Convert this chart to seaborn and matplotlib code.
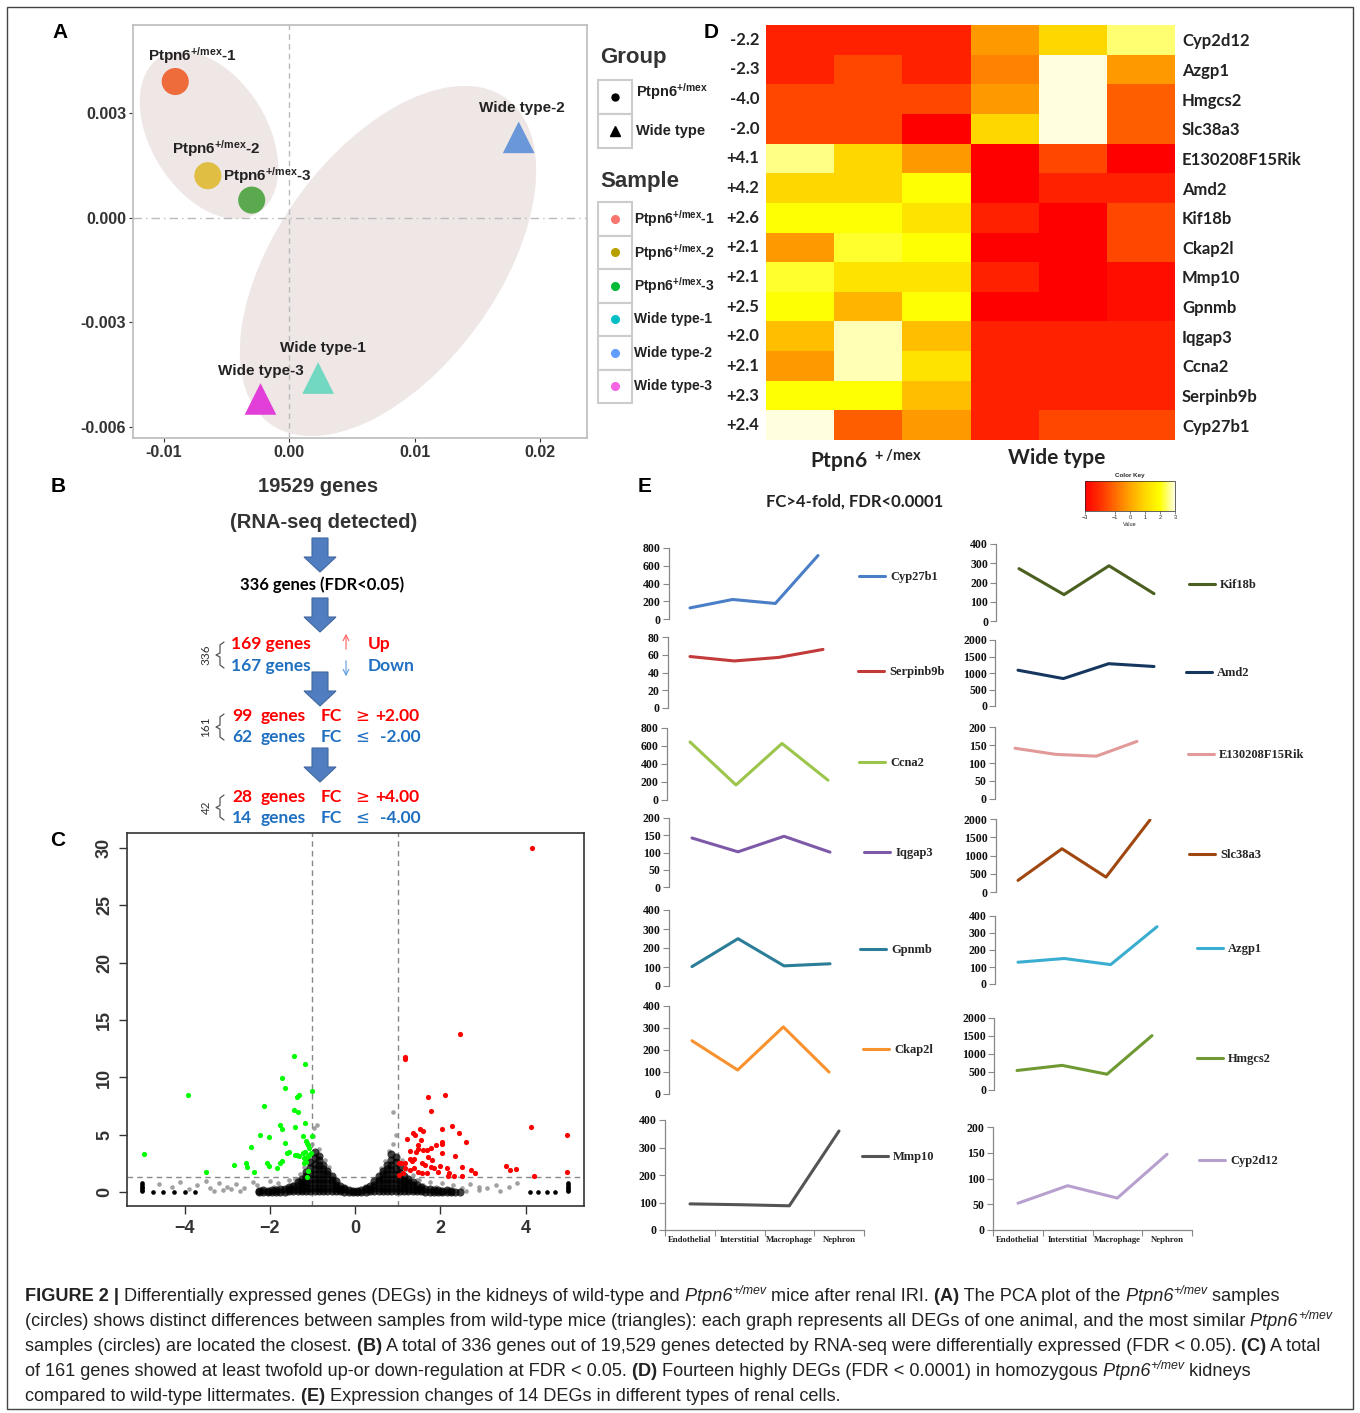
import numpy as np
import pandas as pd
import matplotlib
matplotlib.use("Agg")
import matplotlib.pyplot as plt
import matplotlib.cm as cm
import seaborn as sns
from matplotlib.patches import Ellipse, Rectangle, FancyArrow
from matplotlib.colors import LinearSegmentedColormap, Normalize
from matplotlib.transforms import Affine2D

W, H = 1360, 1413

# ------------------------- DATA -------------------------

# A: PCA
pca_samples = ["Ptpn6-1", "Ptpn6-2", "Ptpn6-3", "Wide type-1", "Wide type-2", "Wide type-3"]
pca_group = ["Ptpn6", "Ptpn6", "Ptpn6", "Wide type", "Wide type", "Wide type"]
pca_pc1 = [-0.0091, -0.0065, -0.0030, 0.0023, 0.0183, -0.0023]
pca_pc2 = [0.0039, 0.0012, 0.0005, -0.0046, 0.0023, -0.0052]
pca_labels = [r"Ptpn6$^{+/mex}$-1", r"Ptpn6$^{+/mex}$-2", r"Ptpn6$^{+/mex}$-3",
              "Wide type-1", "Wide type-2", "Wide type-3"]
pca_colors = ["#EE6B3B", "#DFBE43", "#5BA94F", "#72D8C2", "#6A97D8", "#E13FD7"]
legend_colors = ["#F8766D", "#B79F00", "#00BA38", "#00BFC4", "#619CFF", "#F564E3"]

# C: volcano (log2FC, -log10 FDR)
down_x = [-4.94, -3.92, -3.49, -2.83, -2.56, -2.53, -2.43, -2.37, -2.24, -2.14, -2.06, -2.02,
          -2.03, -1.84, -1.75, -1.76, -1.72, -1.71, -1.65, -1.65, -1.71, -1.59, -1.54, -1.43,
          -1.42, -1.40, -1.44, -1.34, -1.36, -1.31, -1.36, -1.31, -1.23, -1.22, -1.18, -1.17,
          -1.17, -1.19, -1.20, -1.15, -1.13, -1.11, -1.13, -1.08, -1.10, -1.13, -1.01, -1.01,
          -1.07, -1.03, -1.14]
down_y = [3.31, 8.47, 1.74, 2.35, 2.52, 2.23, 3.97, 1.74, 5.02, 7.54, 2.52, 4.79,
          2.29, 2.09, 2.52, 5.86, 5.48, 9.92, 9.05, 4.26, 2.76, 3.39, 3.48, 11.87,
          3.25, 5.72, 7.17, 7.02, 8.27, 8.44, 3.25, 3.16, 4.90, 3.39, 11.14, 6.06,
          3.54, 2.52, 2.96, 4.50, 4.32, 4.12, 3.05, 3.25, 1.89, 1.36, 8.85, 4.90,
          3.83, 3.39, 2.67]
up_x = [4.16, 2.45, 1.17, 1.17, 1.72, 2.12, 1.79, 2.27, 4.12, 4.98, 4.98, 1.52, 1.59, 1.36,
        1.40, 2.43, 2.05, 1.21, 1.47, 2.60, 2.05, 2.05, 1.89, 1.54, 1.78, 1.69, 1.60, 1.47,
        1.43, 1.30, 2.05, 2.34, 1.28, 1.34, 1.39, 1.02, 1.08, 1.17, 1.56, 1.65, 1.78, 1.99,
        2.50, 2.15, 2.73, 2.82, 3.55, 3.64, 3.77, 4.20, 2.21, 2.51, 1.17, 1.30, 1.39, 1.47,
        1.56, 1.69, 1.86, 1.95, 1.13, 1.02, 2.17, 2.32, 1.80, 1.72]
up_y = [30.0, 13.81, 11.81, 11.58, 8.33, 8.47, 7.11, 5.77, 5.66, 5.02, 1.74, 5.48, 5.37, 5.13,
        4.99, 5.19, 5.48, 4.61, 4.12, 4.35, 4.41, 4.21, 4.12, 4.55, 3.83, 3.68, 3.68, 3.74,
        3.54, 3.60, 3.39, 3.16, 2.87, 2.76, 2.93, 2.52, 2.58, 2.52, 2.52, 2.38, 2.23, 2.29,
        2.23, 2.09, 1.94, 1.65, 2.29, 1.94, 2.00, 1.45, 1.65, 1.42, 2.09, 1.94, 2.15, 1.80,
        1.65, 1.65, 2.09, 1.80, 1.65, 1.51, 1.42, 1.42, 2.81, 3.05]
# non-significant genes, dense core: (log2FC, [-log10 FDR values]) read column by column
cloud_columns = [
    (-2.25, [0.05, 0.15]), (-2.15, [0.05, 0.2]), (-2.05, [0.05, 0.15]), (-1.95, [0.05, 0.2]),
    (-1.85, [0.05, 0.2]), (-1.75, [0.05, 0.25]), (-1.65, [0.05, 0.25]),
    (-1.55, [0.1, 0.3, 0.5]), (-1.45, [0.1, 0.3, 0.55]), (-1.35, [0.1, 0.3, 0.6, 0.9]),
    (-1.25, [0.1, 0.3, 0.6, 0.9, 1.2]), (-1.15, [0.1, 0.35, 0.7, 1.0, 1.4, 1.8]),
    (-1.05, [0.1, 0.4, 0.8, 1.2, 1.6, 2.1, 2.6]),
    (-0.95, [0.1, 0.4, 0.8, 1.2, 1.6, 2.0, 2.5, 3.0, 3.5]),
    (-0.85, [0.1, 0.4, 0.8, 1.2, 1.6, 2.0, 2.4, 2.8, 3.2]),
    (-0.75, [0.1, 0.4, 0.8, 1.2, 1.6, 2.0, 2.4]), (-0.65, [0.1, 0.4, 0.8, 1.2, 1.6, 1.9]),
    (-0.55, [0.1, 0.4, 0.8, 1.1, 1.4]), (-0.45, [0.08, 0.35, 0.65, 0.95]),
    (-0.35, [0.08, 0.3, 0.55]), (-0.25, [0.06, 0.25, 0.4]), (-0.15, [0.05, 0.2]),
    (-0.05, [0.05, 0.12]), (0.05, [0.05, 0.12]), (0.15, [0.05, 0.2]),
    (0.25, [0.06, 0.25, 0.4]), (0.35, [0.08, 0.3, 0.55]), (0.45, [0.08, 0.35, 0.65, 0.95]),
    (0.55, [0.1, 0.4, 0.8, 1.1, 1.4]), (0.65, [0.1, 0.4, 0.8, 1.2, 1.6, 1.9]),
    (0.75, [0.1, 0.4, 0.8, 1.2, 1.6, 2.0, 2.4]),
    (0.85, [0.1, 0.4, 0.8, 1.2, 1.6, 2.0, 2.4, 2.8, 3.3]),
    (0.95, [0.1, 0.4, 0.8, 1.2, 1.6, 2.0, 2.6, 3.1]),
    (1.05, [0.1, 0.4, 0.8, 1.2, 1.7, 2.2]), (1.15, [0.1, 0.35, 0.7, 1.0, 1.4]),
    (1.25, [0.1, 0.3, 0.6, 0.9, 1.2]), (1.35, [0.1, 0.3, 0.6, 0.9]),
    (1.45, [0.1, 0.3, 0.6]), (1.55, [0.1, 0.3, 0.5]), (1.65, [0.05, 0.25]),
    (1.75, [0.05, 0.25]), (1.85, [0.05, 0.2]), (1.95, [0.05, 0.2]), (2.05, [0.05, 0.15]),
    (2.15, [0.05, 0.2]), (2.25, [0.05, 0.15]), (2.35, [0.05]), (2.45, [0.05]),
]
# non-significant genes, scattered halo (lighter)
sparse_x = [-4.6, -4.3, -4.1, -3.9, -3.7, -3.5, -3.4, -3.2, -3.0, -2.9, -2.8, -2.6, -2.4,
            -2.3, -2.2, -2.0, -1.9, -1.8, -1.7, -1.55, -1.45, -1.35, -1.25, -0.98, -0.96,
            -0.90, -1.00, -0.85, -1.10, -1.20, -1.30, -1.40, -0.70, -0.60, -2.7, -3.1, -3.3,
            1.25, 1.35, 1.45, 1.6, 1.75, 1.9, 2.05, 2.3, 2.5, 2.7, 2.9, 3.1, 3.3, 3.6, 3.8,
            0.95, 0.88, 0.90, 0.80, 1.10, 1.20, 1.35, 1.50, 0.70, 0.60, 2.6, 2.9, 3.4]
sparse_y = [0.7, 0.5, 0.9, 0.3, 0.6, 1.0, 0.4, 0.8, 0.5, 0.3, 0.7, 0.4, 0.9,
            0.6, 0.3, 1.0, 0.5, 0.8, 0.4, 1.1, 0.7, 1.2, 0.9, 4.9, 5.6,
            5.9, 4.2, 3.8, 3.0, 2.2, 1.6, 1.2, 2.8, 2.2, 0.15, 0.2, 0.15,
            1.0, 0.8, 1.1, 0.6, 0.9, 0.5, 0.8, 0.6, 0.4, 0.7, 0.5, 0.4, 0.6, 0.5, 0.8,
            5.0, 7.0, 4.2, 3.6, 2.8, 2.0, 1.5, 1.1, 2.7, 2.1, 0.15, 0.2, 0.15]
# genes clipped at the plot border (black)
edge_x = [-5.0, -4.75, -4.5, -4.25, -4.0, -3.75, 4.1, 4.3, 4.5, 4.7, 5.0,
          -5.0, -5.0, -5.0, -5.0, -5.0, 5.0, 5.0, 5.0, 5.0, 5.0]
edge_y = [0.10, 0.05, 0.05, 0.05, 0.05, 0.05, 0.05, 0.05, 0.05, 0.05, 0.10,
          0.20, 0.35, 0.50, 0.65, 0.80, 0.20, 0.35, 0.50, 0.65, 0.80]

# D: heatmap (row z-scores)
hm_genes = ["Cyp2d12", "Azgp1", "Hmgcs2", "Slc38a3", "E130208F15Rik", "Amd2", "Kif18b",
            "Ckap2l", "Mmp10", "Gpnmb", "Iqgap3", "Ccna2", "Serpinb9b", "Cyp27b1"]
hm_fc = ["-2.2", "-2.3", "-4.0", "-2.0", "+4.1", "+4.2", "+2.6", "+2.1", "+2.1", "+2.5",
         "+2.0", "+2.1", "+2.3", "+2.4"]
hm_samples = ["P1", "P2", "P3", "W1", "W2", "W3"]
hm_values = [
    [-2.3, -2.3, -2.3, -0.2, 1.0, 2.5],
    [-2.3, -1.6, -2.3, -0.6, 3.0, -0.2],
    [-1.6, -1.6, -1.6, -0.2, 3.0, -1.2],
    [-1.6, -1.6, -3.0, 1.0, 3.0, -1.2],
    [2.6, 1.0, -0.2, -3.0, -1.6, -3.0],
    [1.0, 1.0, 2.0, -3.0, -2.3, -2.3],
    [2.0, 2.0, 1.3, -2.3, -3.0, -1.6],
    [-0.2, 2.2, 2.0, -3.0, -3.0, -1.6],
    [2.2, 1.3, 1.3, -2.3, -3.0, -2.7],
    [2.0, 0.3, 2.0, -3.0, -3.0, -2.7],
    [0.5, 2.8, 0.5, -2.3, -2.3, -2.3],
    [-0.2, 2.8, 1.3, -2.3, -2.3, -2.3],
    [2.0, 2.0, 0.5, -2.3, -2.3, -2.3],
    [3.0, -1.2, -0.2, -2.3, -1.6, -1.6],
]

# E: expression per renal cell type
cells = ["Endothelial", "Interstitial", "Macrophage", "Nephron"]
e_left_genes = ["Cyp27b1", "Serpinb9b", "Ccna2", "Iqgap3", "Gpnmb", "Ckap2l", "Mmp10"]
e_left_values = [
    [125, 220, 175, 715],
    [58, 53, 57, 66],
    [645, 167, 628, 220],
    [142, 102, 147, 101],
    [102, 249, 106, 117],
    [242, 109, 305, 100],
    [95, 92, 88, 360],
]
e_left_ymax = [800, 80, 800, 200, 400, 400, 400]
e_left_step = [200, 20, 200, 50, 100, 100, 100]
e_left_colors = ["#4A7EC6", "#C23B3A", "#9CC54B", "#7D59A8", "#2C7E98", "#F8922E", "#545454"]

e_right_genes = ["Kif18b", "Amd2", "E130208F15Rik", "Slc38a3", "Azgp1", "Hmgcs2", "Cyp2d12"]
e_right_values = [
    [272, 137, 287, 142],
    [1085, 831, 1282, 1197],
    [141, 124, 119, 160],
    [318, 1185, 408, 1975],
    [128, 150, 114, 337],
    [542, 684, 439, 1510],
    [52, 86, 62, 147],
]
e_right_ymax = [400, 2000, 200, 2000, 400, 2000, 200]
e_right_step = [100, 500, 50, 500, 100, 500, 50]
e_right_colors = ["#4B5F1F", "#16365F", "#E29A99", "#9F470F", "#3AAED0", "#6F9A33", "#B7A0CE"]

# ------------------------- LAYOUT (pixels) -------------------------

# (top, bottom, first point x, last point x) of each small chart
e_left_boxes = [(548, 619, 690, 818), (637, 708, 690, 823), (728, 800, 690, 828),
                (818, 887, 692, 830), (910, 986, 692, 830), (1006, 1094, 692, 829),
                (1120, 1230, 690, 839)]
e_right_boxes = [(544, 621, 1019, 1154), (640, 706, 1018, 1154), (727, 799, 1015, 1137),
                 (819, 892, 1018, 1150), (916, 984, 1018, 1157), (1018, 1090, 1017, 1152),
                 (1127, 1230, 1018, 1167)]
e_left_leg = [(859, 577), (858, 672), (859, 763), (864, 853), (860, 950), (863, 1050), (862, 1157)]
e_right_leg = [(1189, 585), (1186, 673), (1188, 755), (1189, 855), (1197, 949), (1197, 1059),
               (1199, 1161)]
pca_label_offsets = [(17, 26), (8, 27), (16, 25), (5, 30), (3, 29), (0, 28)]

sns.set_style("white")
plt.rcParams["font.family"] = ["Liberation Sans", "DejaVu Sans"]
plt.rcParams["mathtext.default"] = "regular"

LATO = ["Lato", "DejaVu Sans"]
SERIF = ["Liberation Serif", "DejaVu Serif"]
DARK = "#333333"

fig = plt.figure(figsize=(W / 100, H / 100), dpi=100)


def px_box(l, t, r, b):
    return [l / W, 1 - b / H, (r - l) / W, (b - t) / H]


ov = fig.add_axes([0, 0, 1, 1], zorder=10)
ov.set_xlim(0, W)
ov.set_ylim(H, 0)
ov.axis("off")
ov.add_patch(Rectangle((7, 7), W - 14, H - 11, fill=False, ec="#444444", lw=1))

for lab, x, y in [("A", 60, 33), ("B", 58, 486), ("C", 58, 840), ("D", 711, 33), ("E", 645, 486)]:
    ov.text(x, y, lab, fontsize=15, fontweight="bold", ha="center", va="center", color="black")

# ------------------------- A: PCA -------------------------
axa = fig.add_axes(px_box(133, 25, 587, 438))
axa.set_xlim(-0.01247, 0.02375)
axa.set_ylim(-0.00632, 0.00552)
axa.axhline(0, color="#BBBBBB", lw=1, ls=(0, (6, 3, 1, 3)), zorder=1)
axa.axvline(0, color="#BBBBBB", lw=1, ls=(0, (4, 3)), zorder=1)

to_px = Affine2D().scale(1 / 454, 1 / 413) + axa.transAxes
for cx, cy, w, h, ang in [(76, 303, 184, 116, -58), (255, 177, 402, 221, 54)]:
    axa.add_patch(Ellipse((cx, cy), w, h, angle=ang, transform=to_px,
                          fc="#EFE6E6", ec="none", zorder=0))

pca = pd.DataFrame({"pc1": pca_pc1, "pc2": pca_pc2, "sample": pca_samples, "group": pca_group})
pal = dict(zip(pca_samples, pca_colors))
for grp, mk, size in [("Ptpn6", "o", 380), ("Wide type", "^", 520)]:
    sns.scatterplot(data=pca[pca.group == grp], x="pc1", y="pc2", hue="sample", palette=pal,
                    marker=mk, s=size, linewidth=0, legend=False, ax=axa, zorder=3)
for i, lab in enumerate(pca_labels):
    dx, dy = pca_label_offsets[i]
    axa.annotate(lab, (pca_pc1[i], pca_pc2[i]), xytext=(dx, dy), textcoords="offset pixels",
                 ha="center", va="center", fontsize=11, fontweight="bold", color="#222222")

axa.set_xticks([-0.01, 0, 0.01, 0.02])
axa.set_xticklabels(["-0.01", "0.00", "0.01", "0.02"])
axa.set_yticks([-0.006, -0.003, 0, 0.003])
axa.set_yticklabels(["-0.006", "-0.003", "0.000", "0.003"])
axa.tick_params(length=3, width=0.8, color=DARK, labelsize=11.5, labelcolor=DARK, pad=2,
                bottom=True, left=True)
for lbl in axa.get_xticklabels() + axa.get_yticklabels():
    lbl.set_fontweight("bold")
for sp in axa.spines.values():
    sp.set_color("#BBBBBB")
    sp.set_linewidth(1.2)
axa.set_xlabel("")
axa.set_ylabel("")

# legends of A
ov.text(600, 58, "Group", fontsize=16, fontweight="bold", color=DARK, va="center")
for j, (lab, mk, ms) in enumerate([(r"Ptpn6$^{+/mex}$", "o", 5), ("Wide type", "^", 7)]):
    y0 = 80 + j * 34
    ov.add_patch(Rectangle((598, y0), 34, 34, fill=True, fc="white", ec="#CCCCCC", lw=1.5))
    ov.plot(615, y0 + 17, marker=mk, color="black", ms=ms)
    ov.text(636, y0 + 17 - (5 if j == 0 else 0), lab, fontsize=10.5, fontweight="bold",
            color="#222222", va="center")
ov.text(600, 181, "Sample", fontsize=16, fontweight="bold", color=DARK, va="center")
for j, lab in enumerate(pca_labels):
    y0 = 202 + j * 33.5
    ov.add_patch(Rectangle((598, y0), 34, 33.5, fill=True, fc="white", ec="#CCCCCC", lw=1.5))
    ov.plot(615, y0 + 16.7, marker="o", color=legend_colors[j], ms=5.5)
    ov.text(634, y0 + 16.7, lab, fontsize=10, fontweight="bold", color="#222222", va="center")

# ------------------------- D: heatmap -------------------------
heat = LinearSegmentedColormap.from_list(
    "heat", ["#FF0000", "#FF3000", "#FF6A00", "#FFA500", "#FFD700", "#FFFF00", "#FFFFE0"])
axd = fig.add_axes(px_box(766, 25, 1175, 440))
hm = pd.DataFrame(hm_values, index=hm_genes, columns=hm_samples)
sns.heatmap(hm, cmap=heat, vmin=-3, vmax=3, cbar=False, xticklabels=False,
            yticklabels=hm_fc, ax=axd)
axd.tick_params(axis="y", length=0, pad=5, labelsize=12, labelrotation=0)
for lbl in axd.get_yticklabels():
    lbl.set_fontweight("bold")
    lbl.set_fontfamily(LATO)
    lbl.set_color("#222222")
axr = axd.twinx()
axr.set_ylim(axd.get_ylim())
axr.set_yticks(np.arange(len(hm_genes)) + 0.5)
axr.set_yticklabels(hm_genes)
axr.tick_params(axis="y", length=0, pad=5, labelsize=12)
for lbl in axr.get_yticklabels():
    lbl.set_fontweight("bold")
    lbl.set_fontfamily(LATO)
    lbl.set_color("#222222")
for sp in axr.spines.values():
    sp.set_visible(False)
axd.set_ylabel("")
axd.set_xlabel("")
ov.text(810, 461, r"Ptpn6$^{\ +/mex}$", fontsize=15, fontweight="bold", family=LATO,
        color="#222222", va="center")
ov.text(1057, 458, "Wide type", fontsize=15, fontweight="bold", family=LATO,
        color="#222222", va="center", ha="center")

cax = fig.add_axes(px_box(1085, 481, 1175, 511))
cb = fig.colorbar(cm.ScalarMappable(norm=Normalize(-3, 3), cmap=heat), cax=cax,
                  orientation="horizontal")
cb.set_ticks([-3, -1, 0, 1, 2, 3])
cb.ax.tick_params(labelsize=4, length=2, width=0.4, pad=1)
cb.outline.set_linewidth(0.5)
ov.text(1130, 475, "Color Key", fontsize=4.5, fontweight="bold", ha="center", va="center")
ov.text(1130, 525, "Value", fontsize=4, ha="center", va="center")

# ------------------------- B: flow -------------------------
ov.text(318, 487, "19529 genes", fontsize=14.5, fontweight="bold", color=DARK,
        ha="center", va="center")
ov.text(324, 523, "(RNA-seq detected)", fontsize=14.5, fontweight="bold", color=DARK,
        ha="center", va="center")
for y0 in [538, 598, 672, 748]:
    ov.add_patch(FancyArrow(320, y0, 0, 34, width=16, head_width=32, head_length=15,
                            length_includes_head=True, fc="#4F7DBF", ec="#41689F", lw=0.8))
ov.text(322, 585, "336 genes (FDR<0.05)", fontsize=12, fontweight="bold", family=LATO,
        color="black", ha="center", va="center")

RED, BLUE = "#FF0000", "#1F70C1"
ov.text(231, 644, "169 genes", fontsize=12.5, fontweight="bold", family=LATO, color=RED, va="center")
ov.text(368, 644, "Up", fontsize=12.5, fontweight="bold", family=LATO, color=RED, va="center")
ov.text(231, 666, "167 genes", fontsize=12.5, fontweight="bold", family=LATO, color=BLUE, va="center")
ov.text(368, 666, "Down", fontsize=12.5, fontweight="bold", family=LATO, color=BLUE, va="center")
ov.annotate("", xy=(346, 631), xytext=(346, 652),
            arrowprops=dict(arrowstyle="->", color="#FF6060", lw=0.8))
ov.annotate("", xy=(346, 679), xytext=(346, 658),
            arrowprops=dict(arrowstyle="->", color="#5A9BE0", lw=0.8))

for y, col, n, sign, val in [(716, RED, "99", "\u2265", "+2.00"), (737, BLUE, "62", "\u2264", "-2.00"),
                             (797, RED, "28", "\u2265", "+4.00"), (818, BLUE, "14", "\u2264", "-4.00")]:
    for x, s in [(232, n), (261, "genes"), (321, "FC"), (375 if val[0] == "+" else 380, val)]:
        ov.text(x, y, s, fontsize=12.5, fontweight="bold", family=LATO, color=col, va="center")
    ov.text(355, y, sign, fontsize=12, family=["DejaVu Sans"], color=col, va="center")


def brace(x, top, bot, label):
    mid = (top + bot) / 2
    ov.plot([x + 5, x + 1, x + 1, x - 3, x + 1, x + 1, x + 5],
            [top, top + 3, mid - 2, mid, mid + 2, bot - 3, bot], color="#555555", lw=0.9)
    ov.text(x - 13, mid, label, rotation=90, fontsize=8.5, color=DARK, family=LATO,
            ha="center", va="center")


brace(219, 642, 668, "336")
brace(219, 714, 740, "161")
brace(219, 795, 820, "42")

# ------------------------- C: volcano -------------------------
cloud_x = [x for x, ys in cloud_columns for _ in ys]
cloud_y = [y for _, ys in cloud_columns for y in ys]

axc = fig.add_axes(px_box(127, 833, 584, 1206))
axc.set_xlim(-5.35, 5.37)
axc.set_ylim(-1.19, 31.28)
sns.scatterplot(x=sparse_x, y=sparse_y, color="#8A8A8A", s=11, alpha=0.8, linewidth=0, ax=axc)
sns.scatterplot(x=cloud_x, y=cloud_y, color="black", s=34, alpha=0.75, linewidth=0, ax=axc)
sns.scatterplot(x=edge_x, y=edge_y, color="black", s=11, linewidth=0, ax=axc)
sns.scatterplot(x=down_x, y=down_y, color="#00FF00", s=14, linewidth=0, ax=axc)
sns.scatterplot(x=up_x, y=up_y, color="#FF0000", s=14, linewidth=0, ax=axc)
for xv in [-1, 1]:
    axc.axvline(xv, color="#888888", lw=1, ls=(0, (4, 3)), zorder=0)
axc.axhline(1.3, color="#888888", lw=1, ls=(0, (4, 3)), zorder=0)
axc.set_xticks([-4, -2, 0, 2, 4])
axc.set_yticks([0, 5, 10, 15, 20, 25, 30])
axc.tick_params(length=6, width=1, color=DARK, labelsize=13, labelcolor=DARK, pad=4,
                bottom=True, left=True)
for lbl in axc.get_xticklabels():
    lbl.set_fontweight("bold")
for lbl in axc.get_yticklabels():
    lbl.set_fontweight("bold")
    lbl.set_rotation(90)
    lbl.set_va("center")
for sp in axc.spines.values():
    sp.set_color("#333333")
    sp.set_linewidth(1.2)

# ------------------------- E: line charts -------------------------
ov.text(855, 502, "FC>4-fold, FDR<0.0001", fontsize=12, fontweight="bold", family=LATO,
        color="#222222", ha="center", va="center")


def small_chart(gene, vals, ymax, step, color, box, leg, last):
    top, bot, x0, x3 = box
    s = (x3 - x0) / 3
    ax = fig.add_axes(px_box(x0 - s / 2, top, x3 + s / 2, bot))
    sns.lineplot(x=cells, y=vals, color=color, lw=2.2, label=gene, sort=False, ax=ax)
    ax.set_xlim(-0.5, 3.5)
    ax.set_ylim(0, ymax)
    ax.set_yticks(np.arange(0, ymax + 1, step))
    ax.set_facecolor("none")
    ax.set_xlabel("")
    ax.set_ylabel("")
    for side in ["top", "right"]:
        ax.spines[side].set_visible(False)
    ax.spines["left"].set_color("#888888")
    ax.spines["left"].set_linewidth(0.9)
    ax.tick_params(axis="y", left=True, length=4, width=0.8, color="#888888", pad=2,
                   labelsize=8.5, labelcolor="#111111")
    for lbl in ax.get_yticklabels():
        lbl.set_fontfamily(SERIF)
        lbl.set_fontweight("bold")
    if last:
        ax.spines["bottom"].set_color("#888888")
        ax.spines["bottom"].set_linewidth(0.9)
        ax.set_xticks([-0.5, 0.5, 1.5, 2.5, 3.5])
        ax.set_xticklabels([])
        ax.set_xticks(range(4), minor=True)
        ax.set_xticklabels(cells, minor=True)
        ax.tick_params(axis="x", which="major", bottom=True, length=4, width=0.8, color="#888888")
        ax.tick_params(axis="x", which="minor", bottom=False, length=0, pad=4,
                       labelsize=6.3, labelcolor="#222222")
        for lbl in ax.get_xticklabels(minor=True):
            lbl.set_fontfamily(SERIF)
            lbl.set_fontweight("bold")
    else:
        ax.spines["bottom"].set_visible(False)
        ax.set_xticks([])
    ax.legend(loc="center left", bbox_to_anchor=(leg[0] / W, 1 - leg[1] / H),
              bbox_transform=fig.transFigure, frameon=False, handlelength=2.1,
              handletextpad=0.4, borderpad=0, borderaxespad=0,
              prop={"family": SERIF, "weight": "bold", "size": 9})


for i in range(7):
    small_chart(e_left_genes[i], e_left_values[i], e_left_ymax[i], e_left_step[i],
                e_left_colors[i], e_left_boxes[i], e_left_leg[i], i == 6)
    small_chart(e_right_genes[i], e_right_values[i], e_right_ymax[i], e_right_step[i],
                e_right_colors[i], e_right_boxes[i], e_right_leg[i], i == 6)

# ------------------------- caption -------------------------
CAP_FONT = ["Liberation Sans Narrow", "Liberation Sans", "DejaVu Sans"]
caption = [
    [("FIGURE 2 |", "b"), (" Differentially expressed genes (DEGs) in the kidneys of wild-type and", "n"),
     (" Ptpn6", "i"), ("+/mev", "s"), (" mice after renal IRI.", "n"), (" (A)", "b"),
     (" The PCA plot of the", "n"), (" Ptpn6", "i"), ("+/mev", "s"), (" samples", "n")],
    [("(circles) shows distinct differences between samples from wild-type mice (triangles): "
      "each graph represents all DEGs of one animal, and the most similar", "n"),
     (" Ptpn6", "i"), ("+/mev", "s")],
    [("samples (circles) are located the closest.", "n"), (" (B)", "b"),
     (" A total of 336 genes out of 19,529 genes detected by RNA-seq were differentially "
      "expressed (FDR < 0.05).", "n"), (" (C)", "b"), (" A total", "n")],
    [("of 161 genes showed at least twofold up-or down-regulation at FDR < 0.05.", "n"),
     (" (D)", "b"), (" Fourteen highly DEGs (FDR < 0.0001) in homozygous", "n"),
     (" Ptpn6", "i"), ("+/mev", "s"), (" kidneys", "n")],
    [("compared to wild-type littermates.", "n"), (" (E)", "b"),
     (" Expression changes of 14 DEGs in different types of renal cells.", "n")],
]
renderer = fig.canvas.get_renderer()


def rich_line(parts, x, y, size):
    texts = []
    for txt, st in parts:
        kw = dict(fontsize=size, family=CAP_FONT, color="#222222", va="baseline")
        yy = y
        if st == "b":
            kw["fontweight"] = "bold"
        elif st == "i":
            kw["style"] = "italic"
        elif st == "s":
            kw["style"] = "italic"
            kw["fontsize"] = size * 0.68
            yy = y - size * 0.55
        t = ov.text(x, yy, txt, **kw)
        texts.append(t)
        x += t.get_window_extent(renderer).width
    return x, texts


base = 13
end, tmp = rich_line(caption[1], 25, 1330, base)
for t in tmp:
    t.remove()
cap_size = base * (1335 - 25) / (end - 25)
for k, parts in enumerate(caption):
    rich_line(parts, 25, 1301 + k * 25, cap_size)

fig.savefig("out.png", dpi=100)
